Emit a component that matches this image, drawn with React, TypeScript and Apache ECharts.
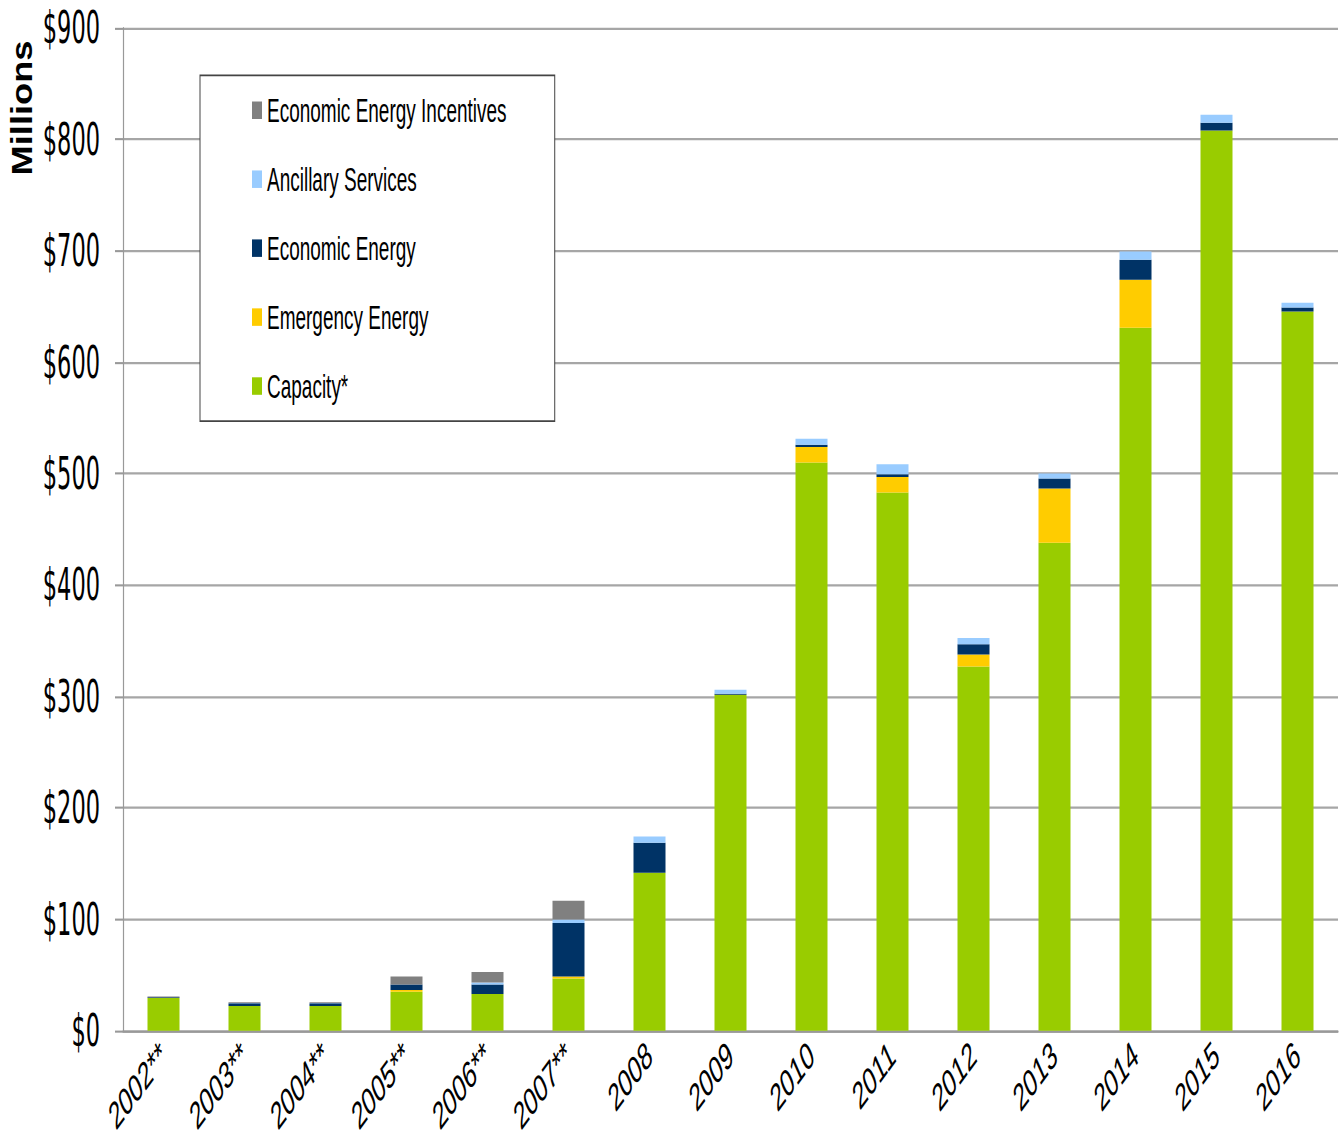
import React, { useEffect, useRef } from "react";
import * as echarts from "echarts";

const categories = ["2002**", "2003**", "2004**", "2005**", "2006**", "2007**", "2008", "2009", "2010", "2011", "2012", "2013", "2014", "2015", "2016"];
const capacity = [29.5, 22.2, 22.2, 35, 33, 47, 141.7, 301.5, 510, 483, 327, 438, 631, 808, 645.5];
const emergencyEnergy = [0, 0, 0, 1.5, 0, 1.8, 0, 0, 14, 14, 10.8, 48.6, 43, 0, 0];
const economicEnergy = [0.5, 2.5, 2.5, 5, 8.6, 48, 27, 1, 2, 2.4, 9, 9, 18, 7, 3.6];
const ancillaryServices = [0, 0.3, 0.3, 0, 1.8, 3, 5.7, 3.5, 5.4, 9, 5.7, 4.5, 7.5, 7.2, 4.2];
const economicEnergyIncentives = [0.8, 0.5, 0.5, 7.3, 9.3, 16.8, 0, 0, 0, 0, 0, 0, 0, 0, 0];
const yTicks = { min: 0, max: 900, interval: 100 };

const W = 1343;
const H = 1142;
const S = 1.75;
const H0 = H / S;

export default function App() {
  const ref = useRef<HTMLDivElement>(null);
  useEffect(() => {
    if (!ref.current) return;
    const chart = echarts.init(ref.current, undefined, { renderer: "svg" });
    const mk = (name: string, data: number[], color: string) => ({
      name,
      type: "bar",
      stack: "total",
      barWidth: 32,
      data,
      itemStyle: { color },
    });
    chart.setOption({
      animation: false,
      grid: { left: 123, right: 5, top: 16, bottom: H0 - 1030 / S, outerBoundsMode: "none", containLabel: false },
      legend: {
        orient: "vertical",
        left: 200,
        top: 43,
        data: ["Economic Energy Incentives", "Ancillary Services", "Economic Energy", "Emergency Energy", "Capacity*"],
        icon: "rect",
        itemWidth: 10,
        itemHeight: 10,
        itemGap: 19.4,
        padding: [10, 48, 10, 52],
        borderColor: "#444",
        borderWidth: 1,
        backgroundColor: "#fff",
        textStyle: { fontSize: 19, fontFamily: "Liberation Sans, Arial, sans-serif", color: "#000", lineHeight: 20 },
      },
      graphic: [
        {
          type: "text",
          x: 22,
          y: 108 / S,
          rotation: Math.PI / 2,
          scaleX: 0.69,
          style: {
            text: "Millions",
            font: "bold 30px 'Liberation Sans', Arial, sans-serif",
            align: "center",
            verticalAlign: "middle",
            fill: "#000",
          },
        },
      ],
      xAxis: {
        type: "category",
        data: categories,
        axisLine: { lineStyle: { color: "#999", width: 1.2 } },
        axisTick: { length: 7.5, lineStyle: { color: "#999", width: 1.2 } },
        axisLabel: {
          rotate: 38,
          margin: 11,
          fontSize: 22,
          fontFamily: "Liberation Sans, Arial, sans-serif",
          color: "#000",
        },
      },
      yAxis: {
        type: "value",
        min: yTicks.min,
        max: yTicks.max,
        interval: yTicks.interval,
        axisLine: { show: true, lineStyle: { color: "#999", width: 1.2 } },
        axisTick: { show: true, length: 8, lineStyle: { color: "#999", width: 1.2 } },
        splitLine: { lineStyle: { color: "#a6a6a6", width: 1.2 } },
        axisLabel: {
          formatter: (v: number) => "$" + v,
          margin: 23,
          fontSize: 25,
          fontFamily: "'Liberation Sans Narrow', 'Arial Narrow', 'DejaVu Sans Condensed', sans-serif",
          color: "#000",
        },
      },
      series: [
        mk("Capacity*", capacity, "#99CC00"),
        mk("Emergency Energy", emergencyEnergy, "#FFCC00"),
        mk("Economic Energy", economicEnergy, "#003366"),
        mk("Ancillary Services", ancillaryServices, "#99CCFF"),
        mk("Economic Energy Incentives", economicEnergyIncentives, "#808080"),
      ],
    });
    return () => chart.dispose();
  }, []);
  return (
    <div style={{ position: "absolute", left: 0, top: 0, width: W, height: H, overflow: "hidden", background: "#fff" }}>
      <div
        ref={ref}
        style={{ width: W, height: H0, transform: `scaleY(${S})`, transformOrigin: "0 0" }}
      />
    </div>
  );
}
